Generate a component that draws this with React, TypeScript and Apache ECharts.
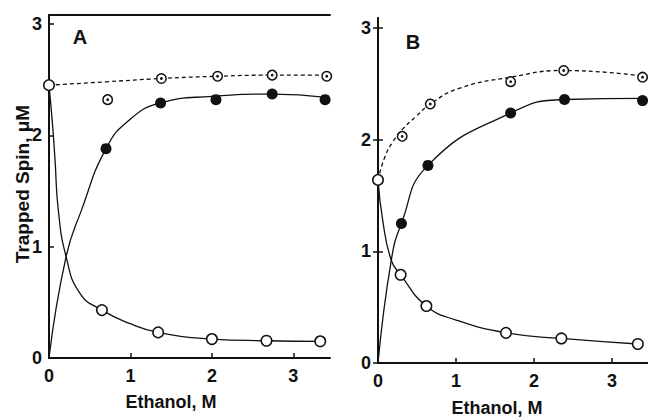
import React, { useEffect, useRef } from "react";
import * as echarts from "echarts";

// ---- Panel A data (Ethanol, M vs Trapped Spin, µM) ----
const aOpenX = [0, 0.65, 1.34, 2.0, 2.67, 3.33];
const aOpenY = [2.45, 0.43, 0.23, 0.17, 0.155, 0.15];
const aFilledX = [0.7, 1.37, 2.05, 2.74, 3.39];
const aFilledY = [1.88, 2.29, 2.32, 2.37, 2.32];
const aDotX = [0.72, 1.38, 2.07, 2.74, 3.41];
const aDotY = [2.32, 2.51, 2.53, 2.54, 2.53];
// fitted curves
const aOpenCurveX = [0, 0.045, 0.074, 0.114, 0.21, 0.38, 0.65, 0.99, 1.34, 2.0, 2.67, 3.33];
const aOpenCurveY = [2.45, 2.08, 1.78, 1.33, 0.91, 0.58, 0.43, 0.31, 0.23, 0.17, 0.155, 0.15];
const aFilledCurveX = [0, 0.21, 0.4, 0.7, 0.99, 1.37, 2.0, 2.74, 3.4];
const aFilledCurveY = [0, 0.91, 1.33, 1.88, 2.14, 2.29, 2.35, 2.37, 2.34];
const aDashCurveX = [0, 0.7, 1.38, 2.07, 2.74, 3.41];
const aDashCurveY = [2.45, 2.48, 2.51, 2.53, 2.54, 2.54];

// ---- Panel B data ----
const bOpenX = [0, 0.29, 0.62, 1.64, 2.35, 3.33];
const bOpenY = [1.64, 0.79, 0.51, 0.27, 0.22, 0.17];
const bFilledX = [0.3, 0.64, 1.7, 2.39, 3.39];
const bFilledY = [1.25, 1.77, 2.24, 2.36, 2.35];
const bDotX = [0.31, 0.67, 1.7, 2.38, 3.39];
const bDotY = [2.03, 2.32, 2.52, 2.62, 2.56];
const bOpenCurveX = [0, 0.06, 0.17, 0.29, 0.62, 1.0, 1.64, 2.35, 3.33];
const bOpenCurveY = [1.64, 1.28, 0.92, 0.79, 0.51, 0.385, 0.27, 0.22, 0.17];
const bFilledCurveX = [0, 0.17, 0.3, 0.64, 1.7, 2.39, 3.39];
const bFilledCurveY = [0, 0.92, 1.25, 1.77, 2.24, 2.36, 2.37];
const bDashCurveX = [0, 0.09, 0.19, 0.31, 0.49, 0.67, 1.04, 1.7, 2.38, 3.39];
const bDashCurveY = [1.64, 1.85, 1.98, 2.09, 2.21, 2.32, 2.46, 2.56, 2.62, 2.57];

const tickValues = [0, 1, 2, 3];
const xTitle = "Ethanol, M";
const yTitle = "Trapped Spin, μM";

const INK = "#111";
const FONT = "Liberation Sans, Arial, sans-serif";

const zip = (xs: number[], ys: number[]) => xs.map((x, i) => [x, ys[i]]);

function curve(xs: number[], ys: number[], grid: number, dashed = false) {
  return {
    type: "line",
    xAxisIndex: grid === 0 ? 0 : 2,
    yAxisIndex: grid === 0 ? 0 : 1,
    data: zip(xs, ys),
    showSymbol: false,
    smooth: 0.5,
    lineStyle: { color: INK, width: 1.3, type: dashed ? [4, 3] : "solid" },
    z: 2,
    silent: true,
  };
}

function markers(xs: number[], ys: number[], grid: number, kind: "open" | "filled" | "dot" | "center") {
  const base: any = {
    type: "scatter",
    xAxisIndex: grid === 0 ? 0 : 2,
    yAxisIndex: grid === 0 ? 0 : 1,
    data: zip(xs, ys),
    symbol: "circle",
    silent: true,
    z: 4,
  };
  if (kind === "open") {
    base.symbolSize = 10.5;
    base.itemStyle = { color: "#fff", borderColor: INK, borderWidth: 1.5, opacity: 1 };
  } else if (kind === "filled") {
    base.symbolSize = 11;
    base.itemStyle = { color: INK, opacity: 1 };
  } else if (kind === "dot") {
    base.symbolSize = 9.5;
    base.itemStyle = { color: "#fff", borderColor: INK, borderWidth: 1.5, opacity: 1 };
  } else {
    base.symbolSize = 2.8;
    base.itemStyle = { color: INK, opacity: 1 };
    base.z = 5;
  }
  return base;
}

const axisLineStyle = { show: true, lineStyle: { color: INK, width: 2 } };
const labelStyle = { color: INK, fontSize: 18, fontWeight: 700, fontFamily: FONT };

function bottomX(grid: number, max: number) {
  return {
    type: "value",
    gridIndex: grid,
    position: "bottom",
    min: 0,
    max,
    axisLine: axisLineStyle,
    axisTick: { show: true, inside: true, length: 5, customValues: tickValues, lineStyle: { color: INK, width: 1.5 } },
    axisLabel: { ...labelStyle, margin: 9, customValues: tickValues },
    splitLine: { show: false },
  };
}

function topX(grid: number, max: number) {
  return {
    type: "value",
    gridIndex: grid,
    position: "top",
    min: 0,
    max,
    axisLine: axisLineStyle,
    axisTick: { show: false },
    axisLabel: { show: false },
    splitLine: { show: false },
  };
}

function leftY(grid: number, max: number) {
  return {
    type: "value",
    gridIndex: grid,
    position: "left",
    min: 0,
    max,
    axisLine: axisLineStyle,
    axisTick: { show: true, inside: true, length: 5, customValues: tickValues, lineStyle: { color: INK, width: 1.5 } },
    axisLabel: { ...labelStyle, margin: 7, customValues: tickValues },
    splitLine: { show: false },
  };
}

export default function App() {
  const ref = useRef<HTMLDivElement>(null);
  useEffect(() => {
    if (!ref.current) return;
    const chart = echarts.init(ref.current, undefined, { renderer: "svg" });
    const option: any = {
      animation: false,
      backgroundColor: "#fff",
      grid: [
        { left: 49, top: 15, width: 281, height: 343 },
        { left: 378, top: 18, width: 272, height: 345 },
      ],
      xAxis: [bottomX(0, 3.45), topX(0, 3.45), bottomX(1, 3.46), topX(1, 3.46)],
      yAxis: [
        leftY(0, 3.08),
        leftY(1, 3.09),
        {
          type: "value",
          gridIndex: 1,
          position: "right",
          min: 0,
          max: 3.09,
          axisLine: axisLineStyle,
          axisTick: { show: true, inside: true, length: 5, customValues: tickValues, lineStyle: { color: INK, width: 1.5 } },
          axisLabel: { show: false },
          splitLine: { show: false },
        },
      ],
      series: [
        curve(aOpenCurveX, aOpenCurveY, 0),
        curve(aFilledCurveX, aFilledCurveY, 0),
        curve(aDashCurveX, aDashCurveY, 0, true),
        markers(aDotX, aDotY, 0, "dot"),
        markers(aDotX, aDotY, 0, "center"),
        markers(aFilledX, aFilledY, 0, "filled"),
        markers(aOpenX, aOpenY, 0, "open"),
        curve(bOpenCurveX, bOpenCurveY, 1),
        curve(bFilledCurveX, bFilledCurveY, 1),
        curve(bDashCurveX, bDashCurveY, 1, true),
        markers(bDotX, bDotY, 1, "dot"),
        markers(bDotX, bDotY, 1, "center"),
        markers(bFilledX, bFilledY, 1, "filled"),
        markers(bOpenX, bOpenY, 1, "open"),
      ],
      graphic: [
        {
          type: "text",
          x: 80,
          y: 37,
          style: { text: "A", fill: INK, font: `bold 20px ${FONT}`, align: "center", verticalAlign: "middle" },
        },
        {
          type: "text",
          x: 413,
          y: 42,
          style: { text: "B", fill: INK, font: `bold 20px ${FONT}`, align: "center", verticalAlign: "middle" },
        },
        {
          type: "text",
          x: 171,
          y: 402,
          style: { text: xTitle, fill: INK, font: `bold 18px ${FONT}`, align: "center", verticalAlign: "middle" },
        },
        {
          type: "text",
          x: 497,
          y: 408,
          style: { text: xTitle, fill: INK, font: `bold 18px ${FONT}`, align: "center", verticalAlign: "middle" },
        },
        {
          type: "text",
          x: 22,
          y: 184,
          rotation: Math.PI / 2,
          style: { text: yTitle, fill: INK, font: `bold 19px ${FONT}`, align: "center", verticalAlign: "middle" },
        },
      ],
    };
    chart.setOption(option);
    return () => chart.dispose();
  }, []);
  return (
    <div
      ref={ref}
      style={{ position: "absolute", left: 0, top: 0, width: 648, height: 417, background: "#fff" }}
    />
  );
}
